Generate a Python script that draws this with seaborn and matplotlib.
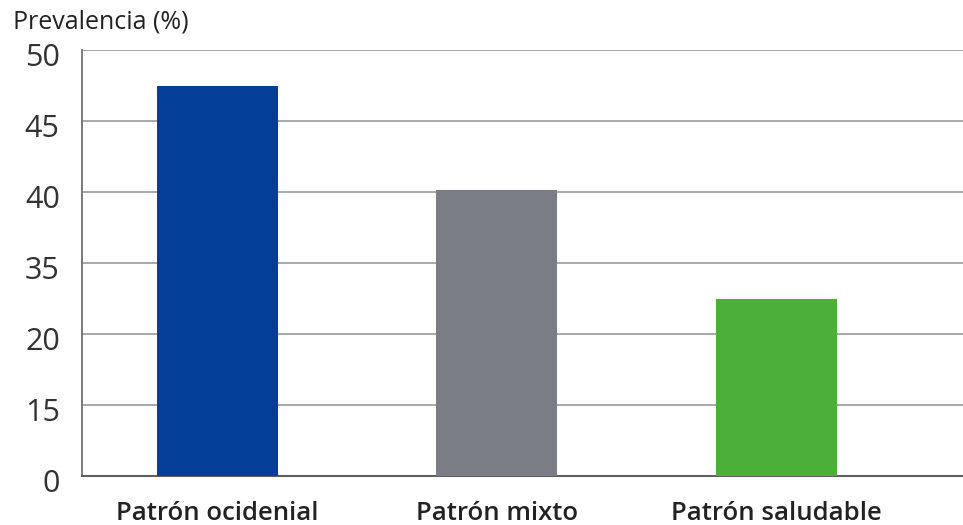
import numpy as np
import pandas as pd
import matplotlib
matplotlib.use('Agg')
import matplotlib.pyplot as plt
import matplotlib.transforms as mtransforms
import seaborn as sns

# datos
categorias = ['Patrón ocidenial', 'Patrón mixto', 'Patrón saludable']
prevalencia = [47.4, 40.1, 27.2]
colores = ['#033e98', '#7a7d86', '#4caf38']
# etiquetas del eje y (espaciado uniforme en la figura original)
ticks_y = [0, 15, 20, 35, 40, 45, 50]

df = pd.DataFrame({'Patron': categorias, 'Prevalencia': prevalencia})

sns.set_theme(style='white')
plt.rcParams['font.family'] = ['Open Sans', 'DejaVu Sans']

pos = np.arange(len(ticks_y))


def forward(v):
    return np.interp(v, ticks_y, pos)


def inverse(p):
    return np.interp(p, pos, ticks_y)


fig = plt.figure(figsize=(9.63, 5.25), dpi=100)
ax = fig.add_axes([82 / 963, 1 - 475.5 / 525, 1 - 82 / 963, (475.5 - 49.5) / 525])
ax.set_yscale('function', functions=(forward, inverse))

sns.barplot(data=df, x='Patron', y='Prevalencia', hue='Patron', palette=colores,
            width=0.433, legend=False, ax=ax, saturation=1, zorder=3, linewidth=0)

ax.set_ylim(0, 50)
ax.set_xlim(-0.484, 2.669)
ax.set_yticks(ticks_y)
ax.set_yticklabels([str(t) for t in ticks_y])
ax.yaxis.set_minor_locator(matplotlib.ticker.NullLocator())
ax.grid(axis='y', color='#a8a8a8', linewidth=1.4, zorder=0)
ax.grid(axis='x', visible=False)

for s in ['top', 'right']:
    ax.spines[s].set_visible(False)
ax.spines['left'].set_color('#707070')
ax.spines['left'].set_linewidth(1.3)
ax.spines['bottom'].set_color('#606060')
ax.spines['bottom'].set_linewidth(1.5)

ax.tick_params(axis='y', length=0, pad=16, labelsize=22, labelcolor='#333333')
ax.tick_params(axis='x', length=0, pad=18, labelsize=18.5, labelcolor='#222222')
for lbl in ax.get_xticklabels():
    lbl.set_fontweight('semibold')
# las etiquetas del eje y quedan un poco por debajo de las líneas
desplaza = mtransforms.ScaledTranslation(0, -5 / 100, fig.dpi_scale_trans)
for lbl in ax.get_yticklabels():
    lbl.set_transform(lbl.get_transform() + desplaza)
ax.set_xlabel('')
ax.set_ylabel('')

fig.text(13 / 963, 1 - 22 / 525, 'Prevalencia (%)', fontsize=18, color='#222222',
         ha='left', va='center')

fig.savefig('out.png', dpi=100)
